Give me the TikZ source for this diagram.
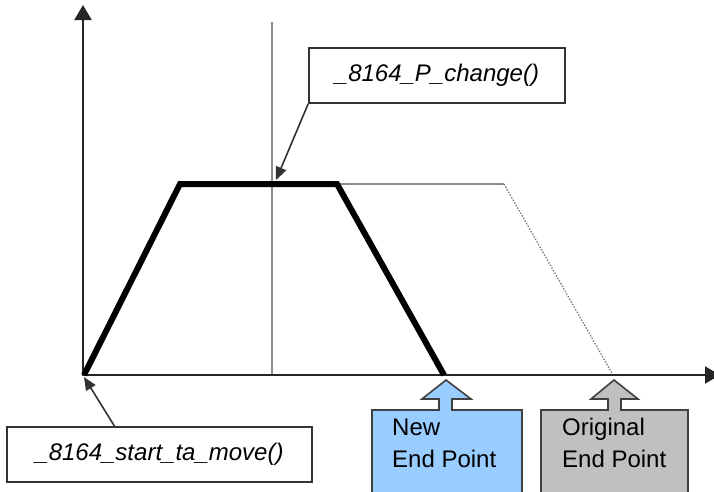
\documentclass[tikz,border=0pt]{standalone}
\usepackage{fontspec}
\setmainfont{Liberation Sans}
\usetikzlibrary{arrows.meta}
\begin{document}
\begin{tikzpicture}[x=1pt,y=-1pt,
  axis/.style={draw=black!85,line width=2.2pt,-{Triangle[length=15pt,width=17pt]}},
  profile/.style={draw=black,line width=6pt,line join=miter,line cap=butt},
  oldprofile/.style={draw=black!45,line width=1.2pt},
  guide/.style={draw=black!45,line width=1.1pt},
  lblbox/.style={draw=black!80,line width=1.6pt,fill=white,minimum height=55pt,inner sep=0pt,font=\fontsize{24}{28}\selectfont\itshape},
  pointer/.style={draw=black!80,line width=1.6pt,-{Triangle[length=13pt,width=11pt]}},
  callout/.style={draw=black!75,line width=1.6pt},
  calltext/.style={anchor=base west,inner sep=0pt,font=\fontsize{24}{28}\selectfont}
]
\useasboundingbox (0,0) rectangle (714,491);
% guide line
\coordinate (gtop) at (272,22);
\coordinate (gbot) at (272,375);
\draw[guide] (gtop) -- (gbot);
% original profile
\coordinate (p2) at (180,184);
\coordinate (p3) at (337,184);
\coordinate (q3) at (504,184);
\coordinate (q4) at (613,375);
\draw[oldprofile] (p3) -- (q3);
\draw[draw=black!55,line width=1.2pt,dash pattern=on 1.5pt off 1.5pt] (q3) -- (q4);
% axes
\coordinate (O) at (83,376);
\coordinate (ytip) at (83,5);
\coordinate (xtip) at (720,375);
\draw[axis] (O) -- (ytip);
\draw[axis] (83,375) -- (xtip);
% new profile
\coordinate (p4) at (444,375);
\draw[profile] (84,375) -- (p2) -- (p3) -- (p4);
% label boxes
\node[lblbox,minimum width=256pt] (chg) at (437,75.5) {\_8164\_P\_change()\hspace{10pt}};
\node[lblbox,minimum width=305pt] (start) at (159.5,454.5) {\_8164\_start\_ta\_move()};
\coordinate (chgtip) at (276,180);
\coordinate (starttip) at (84,377);
\draw[pointer] (chg.south west) -- (chgtip);
\draw[pointer] (115,427) -- (starttip);
% callouts
\draw[callout,fill={rgb,255:red,153;green,204;blue,255}]
  (372,410) -- (439,410) -- (439,399) -- (422,399) -- (446,380) -- (471,399) -- (452,399) -- (452,410) -- (522,410) -- (522,500) -- (372,500) -- cycle;
\draw[callout,fill={rgb,255:red,192;green,192;blue,192}]
  (541,410) -- (608,410) -- (608,399) -- (591,399) -- (614,380) -- (638,399) -- (621,399) -- (621,410) -- (688,410) -- (688,500) -- (541,500) -- cycle;
\node[calltext] (new1) at (392,435) {New};
\node[calltext] (new2) at (392,467) {End Point};
\node[calltext] (org1) at (562,435) {Original};
\node[calltext] (org2) at (562,467) {End Point};
\end{tikzpicture}
\end{document}
